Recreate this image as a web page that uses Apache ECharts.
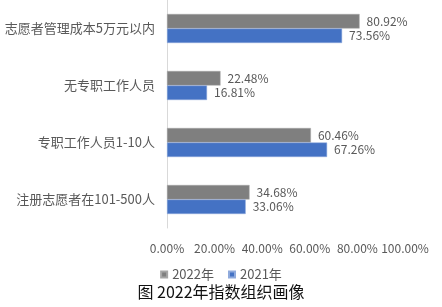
<!DOCTYPE html>
<html><head><meta charset="utf-8">
<script src="https://cdn.jsdelivr.net/npm/echarts@6/dist/echarts.min.js"></script>
<style>html,body{margin:0;padding:0;background:#fff}#c{width:442px;height:307px}</style>
</head><body><div id="c"></div>
<script>
const categories = ['志愿者管理成本5万元以内','无专职工作人员','专职工作人员1-10人','注册志愿者在101-500人'];
const values2022 = [80.92, 22.48, 60.46, 34.68];
const values2021 = [73.56, 16.81, 67.26, 33.06];
const seriesNames = ['2022年','2021年'];
const titleText = '图 2022年指数组织画像';
const FONT = '"Noto Sans CJK SC", "Noto Sans", sans-serif';
const chart = echarts.init(document.getElementById('c'));
const lbl = {show:true, position:'right', distance:7, color:'#595959', fontSize:12, fontFamily:FONT,
  formatter: p => p.value.toFixed(2) + '%'};
chart.setOption({
  animation:false,
  textStyle:{fontFamily:FONT},
  title:{text:titleText, left:'center', bottom:2, textStyle:{fontSize:16, fontWeight:'normal', color:'#111', fontFamily:FONT}},
  legend:{data:seriesNames, top:263, left:'center', icon:'rect', itemWidth:6, itemHeight:6, itemGap:14,
    textStyle:{color:'#595959', fontSize:13, fontFamily:FONT}},
  grid:{left:167, right:37, top:-3, height:231, containLabel:false},
  xAxis:{type:'value', min:0, max:100, interval:20, position:'bottom',
    axisLine:{show:false}, axisTick:{show:false}, splitLine:{show:false},
    axisLabel:{formatter:v=>v.toFixed(2)+'%', color:'#595959', fontSize:12, margin:14}},
  yAxis:{type:'category', data:categories, inverse:true,
    axisLine:{show:true, lineStyle:{color:'#d9d9d9', width:1}}, axisTick:{show:false},
    axisLabel:{color:'#595959', fontSize:13, margin:12}},
  series:[
    {name:seriesNames[0], type:'bar', data:values2022, barWidth:14.5, barGap:'0%',
      itemStyle:{color:'#7f7f7f', borderColor:'#a6a6a6', borderWidth:0.5}, label:lbl},
    {name:seriesNames[1], type:'bar', data:values2021, barWidth:14.5, barGap:'0%',
      itemStyle:{color:'#4472c4', borderColor:'#8faadc', borderWidth:0.5}, label:lbl}
  ]
});
</script></body></html>
